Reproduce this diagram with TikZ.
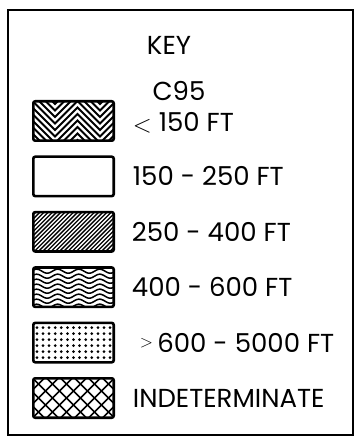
\documentclass[tikz,border=0pt]{standalone}
\usepackage{fontspec}
\setmainfont{Poppins}
\usetikzlibrary{positioning}

\begin{document}
\begin{tikzpicture}[x=1pt,y=1pt,
      swatch/.style={draw,line width=2.6pt,rounded corners=2pt,minimum width=80.4pt,minimum height=39.4pt,inner sep=0pt,outer sep=0pt},
      lbl/.style={font=\fontsize{26}{28}\selectfont,inner sep=0pt},
      pat/.style={path picture={\begin{scope}[shift={(path picture bounding box.center)},sharp corners]#1\end{scope}}},
      chevron/.style={pat={\foreach \o in {-48,-41.5,...,24}
        \draw[line width=2.1pt] (-63.5,\o) -- (-41,\o+22.5) -- (-18.5,\o) -- (4,\o+22.5) -- (26.5,\o) -- (49,\o+22.5) -- (71.5,\o);}},
      hatch/.style={pat={\foreach \o in {-70,-65.8,...,70}
        \draw[line width=1.3pt] (\o-25,-25) -- (\o+25,25);}},
      wave/.style={pat={\foreach \o in {-24,-19,...,24}
        \draw[line width=1.5pt] plot[domain=-45:45,samples=80,smooth] (\x,{\o+2*sin(17.1*\x)});}},
      dots/.style={pat={\foreach \i in {-6,...,6} \foreach \j in {-2.5,-1.5,...,2.5}
        \fill (\i*6.1,\j*6) circle (1.5);}},
      cross/.style={pat={\foreach \o in {-77,-63,...,77} {
        \draw[line width=1.6pt] (\o-25,-25) -- (\o+25,25);
        \draw[line width=1.6pt] (\o-25,25) -- (\o+25,-25);}}}
    ]
      \useasboundingbox (0,0) rectangle (359,-438);
      \draw[line width=2.2pt] (8,-10) rectangle (353,-435);

      \node[lbl] (key) at (169,-45) {KEY};

      % legend swatches
      \node[swatch,chevron] (s1) at (73.5,-121) {};
      \node[swatch,below=16pt of s1] (s2) {};
      \node[swatch,hatch,below=16pt of s2] (s3) {};
      \node[swatch,wave,below=16pt of s3] (s4) {};
      \node[swatch,dots,below=16pt of s4] (s5) {};
      \node[swatch,cross,below=16pt of s5] (s6) {};

      % labels
      \node[lbl,right=19pt of s1,yshift=-2pt] (t1) {\raisebox{-1pt}{\fontsize{34}{34}\selectfont$<$} 150 FT};
      \node[lbl] (c95) at (179,-91) {C95};
      \node[lbl,right=19pt of s2] (t2) {150 - 250 FT};
      \node[lbl,right=18pt of s3] (t3) {250 - 400 FT};
      \node[lbl,right=18pt of s4] (t4) {400 - 600 FT};
      \node[lbl,right=26pt of s5] (t5) {\raisebox{5pt}{\fontsize{18}{18}\selectfont$\mathbf{>}$}\,600 - 5000 FT};
      \node[lbl,right=19pt of s6] (t6) {INDETERMINATE};
    \end{tikzpicture}
\end{document}
